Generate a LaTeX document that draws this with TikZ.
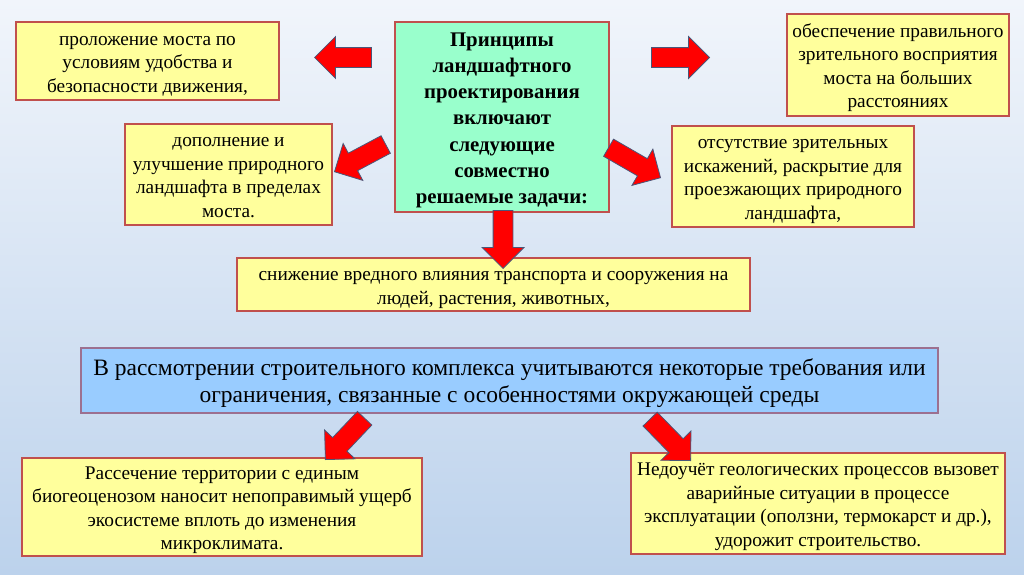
\documentclass[tikz,border=0pt]{standalone}
\usepackage{fontspec}
\setmainfont{Liberation Serif}
\usetikzlibrary{shapes.arrows}
\definecolor{bgtop}{HTML}{F1F5FB}
\definecolor{bgbot}{HTML}{BCD2EC}
\definecolor{boxyellow}{HTML}{FFFF9C}
\definecolor{boxgreen}{HTML}{99FFCC}
\definecolor{boxblue}{HTML}{99CCFF}
\definecolor{boxline}{HTML}{C0504D}
\definecolor{blueline}{HTML}{9C7090}
\definecolor{arrowline}{HTML}{4A5678}
\newcommand\topstrut[1]{\rule{0pt}{#1}}
\newcommand\botstrut[1]{\rule[-#1]{0pt}{#1}}
\tikzset{
  ybox/.style={draw=boxline, line width=1.1pt, fill=boxyellow, align=center, inner sep=0pt,
    font=\fontsize{19.3}{23.5}\selectfont},
  gbox/.style={draw=boxline, line width=1.1pt, fill=boxgreen, align=center, inner sep=0pt,
    font=\fontsize{20.8}{26.2}\selectfont\bfseries},
  bbox/.style={draw=blueline, line width=1.1pt, fill=boxblue, align=center, inner sep=0pt,
    font=\fontsize{23.5}{27}\selectfont},
  barrow/.style={single arrow, draw=arrowline, fill=red, line width=0.8pt,
    inner xsep=0pt, inner ysep=9.5pt, anchor=tip,
    single arrow head extend=11pt, single arrow tip angle=90},
}
\begin{document}
\begin{tikzpicture}[x=1pt,y=-1pt]
\shade[top color=bgtop, bottom color=bgbot] (0,0) rectangle (1024,574);
\useasboundingbox (0,0) rectangle (1024,574);

\node[ybox, minimum width=263pt, minimum height=78pt] (b1) at (147.5,61)
  {\topstrut{20pt}проложение моста по\\условиям удобства и\\безопасности движения,\botstrut{5pt}};
\node[gbox, minimum width=214pt, minimum height=190pt] (c) at (502,117)
  {\topstrut{20.6pt}Принципы\\ландшафтного\\проектирования\\включают\\следующие\\совместно\\решаемые задачи:\botstrut{5pt}};
\node[ybox, minimum width=222pt, minimum height=102pt] (b2) at (898,65)
  {\topstrut{20pt}обеспечение правильного\\зрительного восприятия\\моста на больших\\расстояниях\botstrut{5pt}};
\node[ybox, minimum width=207pt, minimum height=101pt] (b3) at (228.5,174.5)
  {\topstrut{20pt}дополнение и\\улучшение природного\\ландшафта в пределах\\моста.\botstrut{5pt}};
\node[ybox, minimum width=242pt, minimum height=101pt] (b4) at (793,176.5)
  {\topstrut{20pt}отсутствие зрительных\\искажений, раскрытие для\\проезжающих природного\\ландшафта,\botstrut{5pt}};
\node[ybox, minimum width=513pt, minimum height=53pt] (b5) at (493.5,284.5)
  {\topstrut{21pt}снижение вредного влияния транспорта и сооружения на\\людей, растения, животных,\botstrut{5pt}};
\node[bbox, minimum width=857pt, minimum height=65pt] (blue) at (509.5,380.5)
  {\topstrut{22pt}В рассмотрении строительного комплекса учитываются некоторые требования или\\ограничения, связанные с особенностями окружающей среды\botstrut{6pt}};
\node[ybox, minimum width=400pt, minimum height=98pt] (b6) at (222,507)
  {\topstrut{20pt}Рассечение территории с единым\\биогеоценозом наносит непоправимый ущерб\\экосистеме вплоть до изменения\\микроклимата.\botstrut{5pt}};
\node[ybox, minimum width=374pt, minimum height=101pt] (b7) at (818,503.5)
  {\topstrut{20pt}Недоучёт геологических процессов вызовет\\аварийные ситуации в процессе\\эксплуатации (оползни, термокарст и др.),\\удорожит строительство.\botstrut{5pt}};

\node[barrow, minimum height=57pt, rotate=180] (a1) at (314,57.5) {};
\node[barrow, minimum height=58pt, rotate=0] (a2) at (710,57.5) {};
\node[barrow, minimum height=58pt, rotate=208] (a3) at (334,172) {};
\node[barrow, minimum height=60pt, rotate=-30] (a4) at (661,178) {};
\node[barrow, minimum height=58pt, rotate=-90] (a5) at (503,269) {};
\node[barrow, minimum height=57pt, rotate=226.5] (a6) at (325,460) {};
\node[barrow, minimum height=58pt, rotate=-45.7] (a7) at (691,461) {};
\end{tikzpicture}
\end{document}
